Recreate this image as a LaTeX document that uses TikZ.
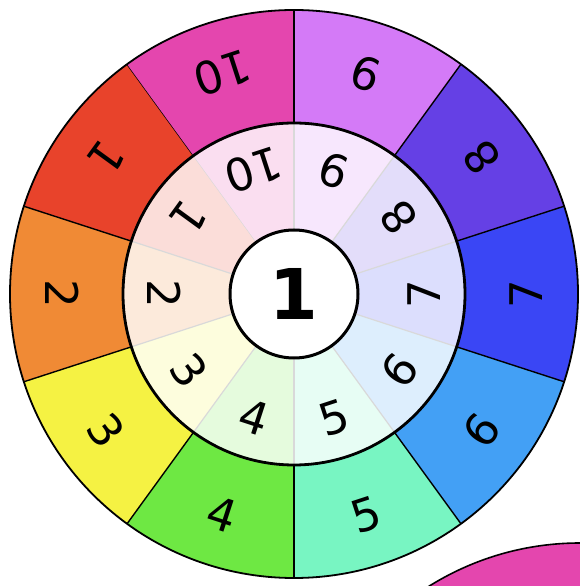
\documentclass[tikz,border=0pt]{standalone}
\usepackage{fontspec}
\setmainfont{DejaVu Sans}
\usetikzlibrary{calc}

% ring colours
\definecolor{sone}{HTML}{E8432B}
\definecolor{stwo}{HTML}{F08A35}
\definecolor{sthree}{HTML}{F5F243}
\definecolor{sfour}{HTML}{6EE843}
\definecolor{sfive}{HTML}{78F5C2}
\definecolor{ssix}{HTML}{43A0F5}
\definecolor{sseven}{HTML}{3A46F5}
\definecolor{seight}{HTML}{6540E5}
\definecolor{snine}{HTML}{D47AF7}
\definecolor{sten}{HTML}{E446AE}

\tikzset{
  digit/.style={font=\fontsize{45}{45}\selectfont, inner sep=0pt},
  hub/.style={circle, draw, line width=3pt, fill=white, minimum size=128pt, inner sep=0pt,
    font=\fontsize{70}{70}\selectfont\bfseries}
}

\begin{document}
\begin{tikzpicture}[x=1pt,y=1pt]
        \useasboundingbox (0,0) rectangle (580,586);
        \coordinate (c) at (294,292);

        % Next wheel peeking in
        \begin{scope}
            \clip (0,0) rectangle (580,586);
            \fill[sten] (580,-242) circle (285);
            \draw[line width=1.6pt] (580,-242) circle (285);
        \end{scope}

        % Outer ring
        \foreach \n/\a/\col in {1/144/sone, 2/180/stwo, 3/216/sthree, 4/252/sfour, 5/288/sfive,
                6/324/ssix, 7/0/sseven, 8/36/seight, 9/72/snine, 10/108/sten} {
            \fill[\col] (c) -- ($(c)+(\a-18:284)$) arc[start angle=\a-18, end angle=\a+18, radius=284] -- cycle;
            \draw[line width=1.4pt] ($(c)+(\a-18:171)$) -- ($(c)+(\a-18:284)$);
            \node[digit, rotate=\a+90] (out\n) at ($(c)+(\a:232)$) {\n};
        }

        % Inner ring
        \foreach \n/\a/\col in {1/144/sone, 2/180/stwo, 3/216/sthree, 4/252/sfour, 5/288/sfive,
                6/324/ssix, 7/0/sseven, 8/36/seight, 9/72/snine, 10/108/sten} {
            \fill[\col!18!white] (c) -- ($(c)+(\a-18:171)$) arc[start angle=\a-18, end angle=\a+18, radius=171] -- cycle;
            \draw[gray!30, line width=1.2pt] (c) -- ($(c)+(\a-18:171)$);
            \node[digit, rotate=\a+90] (in\n) at ($(c)+(\a:130)$) {\n};
        }

        \draw[line width=1.8pt] (c) circle (284);
        \draw[line width=2.8pt] (c) circle (171);
        \node[hub] (centre) at (c) {1};
    \end{tikzpicture}
\end{document}
